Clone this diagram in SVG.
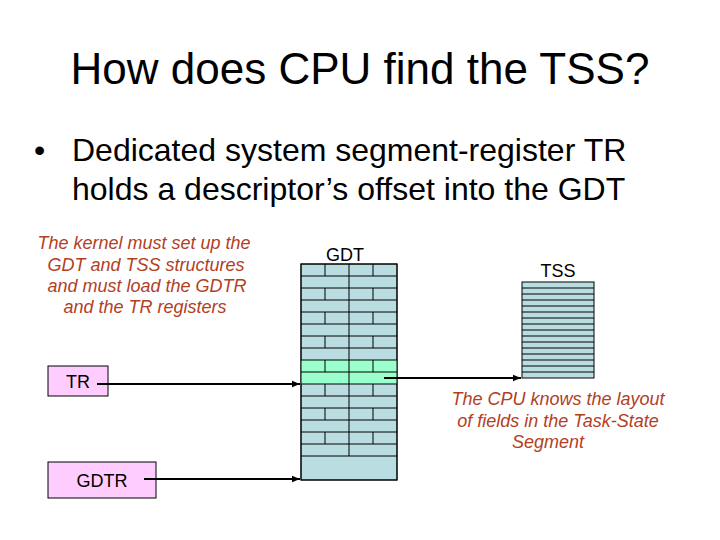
<svg xmlns="http://www.w3.org/2000/svg" width="720" height="540" viewBox="0 0 720 540">
  <defs>
    <style>
      .sans{font-family:"Liberation Sans",Arial,sans-serif;fill:#000}
      .note{font-family:"Liberation Sans",Arial,sans-serif;font-style:italic;font-size:18px;fill:#B2401F;text-anchor:middle}
      .blue{fill:#B9DDE0;stroke:#000;stroke-width:1}
      .grid{fill:none;stroke:#000;stroke-width:1}
      .reg{fill:#FFCCFF;stroke:#000;stroke-width:1}
      .conn{fill:none;stroke:#000;stroke-width:2}
    </style>
    <marker id="ah" viewBox="0 0 10 10" refX="10" refY="5" markerWidth="4" markerHeight="4" orient="auto" markerUnits="strokeWidth">
      <path d="M0,1 L10,5 L0,9 z" fill="#000"/>
    </marker>
  </defs>
  <rect width="720" height="540" fill="#fff"/>

  <g id="title">
    <text class="sans" x="360" y="84" font-size="44" text-anchor="middle">How does CPU find the TSS?</text>
  </g>
  <g id="bullet">
    <text class="sans" x="34" y="161" font-size="32">•</text>
    <text class="sans" x="72" y="161" font-size="32">Dedicated system segment-register TR</text>
    <text class="sans" x="72" y="200" font-size="32">holds a descriptor’s offset into the GDT</text>
  </g>

  <g id="kernel-note">
    <text class="note" x="144" y="249">The kernel must set up the</text>
    <text class="note" x="146" y="271">GDT and TSS structures</text>
    <text class="note" x="147" y="292">and must load the GDTR</text>
    <text class="note" x="145" y="313">and the TR registers</text>
  </g>

  <g id="gdt">
    <text class="sans" x="345" y="261" font-size="18" text-anchor="middle">GDT</text>
    <rect class="blue" x="301" y="264" width="96" height="216"/>
    <rect x="301" y="360" width="96" height="24" fill="#99FFCC"/>
    <path class="grid" d="M301 276H397M301 288H397M301 300H397M301 312H397M301 324H397M301 336H397M301 348H397M301 360H397M301 372H397M301 384H397M301 396H397M301 408H397M301 420H397M301 432H397M301 444H397M301 456H397"/>
    <path class="grid" d="M349 264V456M325 264V276M373 264V276M325 288V300M373 288V300M325 312V324M373 312V324M325 336V348M373 336V348M325 360V372M373 360V372M325 384V396M373 384V396M325 408V420M373 408V420M325 432V444M373 432V444"/>
    <rect x="301" y="264" width="96" height="216" fill="none" stroke="#000" stroke-width="1"/>
  </g>

  <g id="tss">
    <text class="sans" x="558" y="277" font-size="18" text-anchor="middle">TSS</text>
    <rect class="blue" x="522" y="282" width="72" height="96"/>
    <path class="grid" d="M522 288H594M522 294H594M522 300H594M522 306H594M522 312H594M522 318H594M522 324H594M522 330H594M522 336H594M522 342H594M522 348H594M522 354H594M522 360H594M522 366H594M522 372H594"/>
  </g>

  <g id="tr">
    <rect class="reg" x="48" y="366" width="60" height="30"/>
    <text class="sans" x="78" y="388" font-size="18" text-anchor="middle">TR</text>
  </g>

  <g id="gdtr">
    <rect class="reg" x="48" y="462" width="108" height="36"/>
    <text class="sans" x="102" y="487" font-size="18" text-anchor="middle">GDTR</text>
  </g>

  <g id="cpu-note">
    <text class="note" x="558" y="405">The CPU knows the layout</text>
    <text class="note" x="558" y="427">of fields in the Task-State</text>
    <text class="note" x="548" y="448">Segment</text>
  </g>

  <g id="connectors">
    <line class="conn" x1="97" y1="384" x2="300" y2="384" marker-end="url(#ah)"/>
    <line class="conn" x1="144" y1="479" x2="300" y2="479" marker-end="url(#ah)"/>
    <line class="conn" x1="384" y1="378" x2="521" y2="378" marker-end="url(#ah)"/>
  </g>
</svg>
